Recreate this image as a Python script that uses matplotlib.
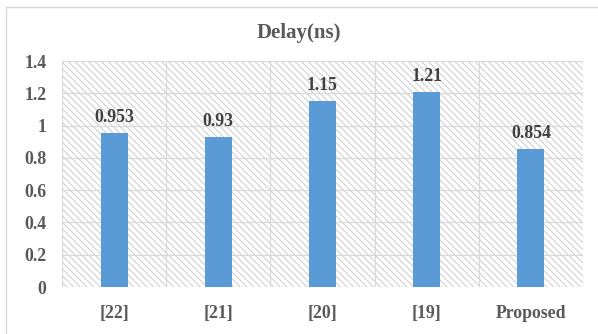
import matplotlib
matplotlib.use("Agg")
import matplotlib.pyplot as plt
from matplotlib.patches import Rectangle
import numpy as np

categories = ["[22]", "[21]", "[20]", "[19]", "Proposed"]
values = [0.953, 0.93, 1.15, 1.21, 0.854]
yticks = [0, 0.2, 0.4, 0.6, 0.8, 1, 1.2, 1.4]
ytick_labels = ["0", "0.2", "0.4", "0.6", "0.8", "1", "1.2", "1.4"]

plt.rcParams['font.family'] = ['Liberation Serif', 'DejaVu Serif']
plt.rcParams['hatch.linewidth'] = 0.7
plt.rcParams['hatch.color'] = '#cccccc'

W, H = 598, 334
fig = plt.figure(figsize=(W/100, H/100), dpi=100)
fig.patch.set_facecolor('white')

# outer chart border
fig.add_artist(Rectangle((6/W, -0.1), 1.2, (H - 7)/H + 0.1, transform=fig.transFigure,
                         fill=False, edgecolor='#d9d9d9', linewidth=1.0))

ax = fig.add_axes([62/W, (H-287)/H, (583-62)/W, (287-61)/H])
ax.set_facecolor('white')
ax.add_patch(Rectangle((0, 0), 1, 1, transform=ax.transAxes, facecolor='none',
                       edgecolor='#cccccc', hatch='\\\\\\\\\\', linewidth=0, zorder=0))

x = np.arange(len(categories))
bars = ax.bar(x, values, width=0.26, color='#5B9BD5', zorder=3)

ax.set_xlim(-0.5, len(categories) - 0.5)
ax.set_ylim(0, 1.4)
ax.set_yticks(yticks)
ax.set_yticklabels(ytick_labels)
ax.set_xticks(x)
ax.set_xticklabels(categories)

for xb in np.arange(-0.5, len(categories), 1.0):
    ax.axvline(xb, color='#d9d9d9', linewidth=0.9, zorder=1)
for yt in yticks:
    ax.axhline(yt, color='#d9d9d9', linewidth=0.9, zorder=1)

for s in ax.spines.values():
    s.set_visible(False)

ax.tick_params(axis='both', length=0, colors='#595959')
ax.tick_params(axis='y', pad=11)
ax.tick_params(axis='x', pad=13)
for lab in ax.get_yticklabels() + ax.get_xticklabels():
    lab.set_fontweight('bold')
    lab.set_fontsize(12.8)
    lab.set_color('#595959')

for xi, v in zip(x, values):
    ax.annotate(f"{v:g}", (xi, v), xytext=(0, 5), textcoords='offset points',
                ha='center', va='bottom', fontsize=12.8, fontweight='bold', color='#404040')

fig.text(0.5, (H - 33)/H, "Delay(ns)", ha='center', va='center', fontsize=15,
         fontweight='bold', color='#595959')

fig.savefig("out.png", dpi=100)
